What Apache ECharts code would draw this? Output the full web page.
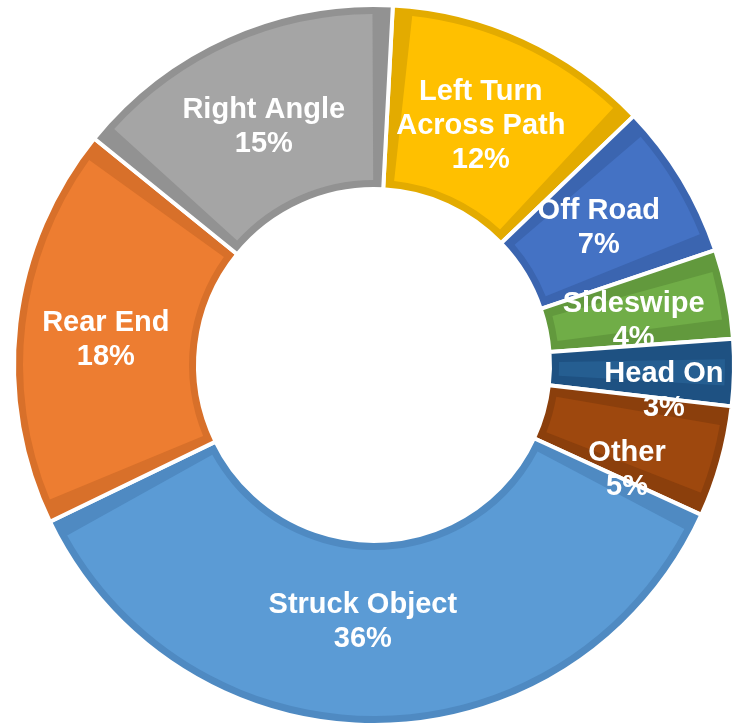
<!DOCTYPE html>
<html>
<head>
<meta charset="utf-8">
<script src="https://cdn.jsdelivr.net/npm/echarts@6/dist/echarts.min.js"></script>
<style>
  html, body { margin: 0; padding: 0; background: #ffffff; }
  #chart { width: 739px; height: 724px; }
</style>
</head>
<body>
<div id="chart"></div>
<script>
// ---- data ----
const categories = ['Left Turn\nAcross Path', 'Off Road', 'Sideswipe', 'Head On', 'Other', 'Struck Object', 'Rear End', 'Right Angle'];
const percentages = [12, 7, 4, 3, 5, 36, 18, 15];

// ---- styles ----
const fillColors = ['#FFC000', '#4472C4', '#70AD47', '#255E91', '#9E480E', '#5B9BD5', '#ED7D31', '#A5A5A5'];
const edgeColors = ['#E3AB00', '#3B65B0', '#62993D', '#1E5182', '#8B3F0C', '#4F8AC2', '#D8702A', '#929292'];
const labelShift = [[-6, 7], [-7, 3], [-6, 10], [19, 20], [-8, 32], [-14, -14], [1, 6], [0, 10]];

const center = ['374', '365'];
const startAngle = 87;

const outerData = categories.map((c, i) => ({ name: c, value: percentages[i], itemStyle: { color: edgeColors[i] } }));
const innerData = categories.map((c, i) => ({ name: c, value: percentages[i], itemStyle: { color: fillColors[i] } }));

const chart = echarts.init(document.getElementById('chart'), null, { renderer: 'canvas' });
chart.setOption({
  backgroundColor: '#ffffff',
  animation: false,
  series: [
    {
      type: 'pie',
      center: center,
      radius: [176, 360],
      startAngle: startAngle,
      clockwise: true,
      silent: true,
      label: { show: false },
      labelLine: { show: false },
      itemStyle: { borderColor: '#ffffff', borderWidth: 4 },
      data: outerData
    },
    {
      type: 'pie',
      center: center,
      radius: [185, 351],
      startAngle: startAngle,
      clockwise: true,
      padAngle: 6.5,
      silent: true,
      itemStyle: { borderWidth: 0 },
      labelLine: { show: false },
      label: {
        show: true,
        position: 'inside',
        formatter: function (p) { return p.name + '\n' + p.value + '%'; },
        color: '#ffffff',
        fontFamily: '"Liberation Sans", Arial, sans-serif',
        fontWeight: 'bold',
        fontSize: 29,
        lineHeight: 34,
        align: 'center'
      },
      labelLayout: function (params) {
        const s = labelShift[params.dataIndex];
        return s ? { dx: s[0], dy: s[1] } : {};
      },
      data: innerData
    }
  ]
});
</script>
</body>
</html>
